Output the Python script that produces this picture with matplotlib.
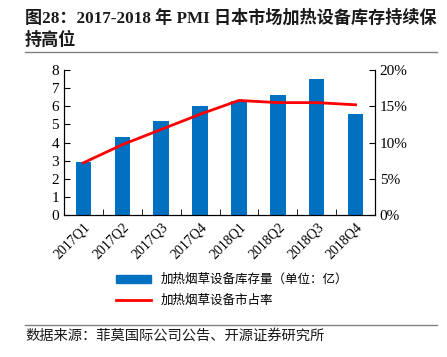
import numpy as np
import matplotlib.pyplot as plt
from matplotlib.lines import Line2D

quarters = ['2017Q1', '2017Q2', '2017Q3', '2017Q4', '2018Q1', '2018Q2', '2018Q3', '2018Q4']
stock = [2.9, 4.3, 5.2, 6.0, 6.3, 6.6, 7.5, 5.6]          # 加热烟草设备库存量 (亿)
share = [0.072, 0.097, 0.118, 0.139, 0.158, 0.155, 0.155, 0.152]  # 市占率

serif = ['Liberation Serif', 'Noto Sans CJK SC']
cjk = ['Noto Sans CJK SC', 'DejaVu Sans']

fig = plt.figure(figsize=(4.47, 3.57), dpi=100)
W, H = 447, 357
ax = fig.add_axes([64 / W, 1 - 215 / H, (375 - 64) / W, 145 / H])
ax2 = ax.twinx()

x = np.arange(len(quarters))
ax.bar(x, stock, width=0.4, color='#0070C0', zorder=2)
ax2.plot(x, share, color='#FF0000', lw=2, zorder=3)

ax.set_xlim(-0.5, len(quarters) - 0.5)
ax.set_ylim(0, 8)
ax.set_yticks(range(0, 9))
ax2.set_ylim(0, 0.20)
ax2.set_yticks([0, 0.05, 0.10, 0.15, 0.20])
ax2.set_yticklabels(['0%', '5%', '10%', '15%', '20%'])

ax.set_xticks(x)
ax.set_xticklabels(quarters, rotation=45, ha='right', rotation_mode='anchor')
ax.set_xticks(np.arange(-0.5, len(quarters)), minor=True)
ax.tick_params(axis='x', which='major', length=0, labelsize=10, pad=4)
ax.tick_params(axis='x', which='minor', direction='in', length=4)
ax.tick_params(axis='y', direction='in', length=4, labelsize=11)
ax2.tick_params(axis='y', direction='in', length=4, labelsize=11)
for a in (ax, ax2):
    a.spines['top'].set_visible(False)
    for lab in a.get_xticklabels() + a.get_yticklabels():
        lab.set_fontfamily(serif)
ax.set_zorder(ax2.get_zorder() - 1)
ax2.patch.set_visible(False)
ax.patch.set_visible(False)

# legend
handles = [plt.Rectangle((0, 0), 1, 1, color='#0070C0'),
           Line2D([0], [0], color='#FF0000', lw=2)]
labels = ['加热烟草设备库存量（单位：亿）', '加热烟草设备市占率']
fig.legend(handles, labels, loc='center', bbox_to_anchor=(232 / W, 1 - 290 / H),
           ncol=1, frameon=False, prop={'family': cjk, 'size': 9},
           handlelength=2.8, handleheight=0.6, labelspacing=0.6)

# title and source
fig.text(25 / W, 1 - 18 / H, '图28：2017-2018 年 PMI 日本市场加热设备库存持续保',
         fontsize=12.3, fontweight='bold', family=serif, color='#1a1a1a', va='center')
fig.text(25 / W, 1 - 40 / H, '持高位',
         fontsize=12.3, fontweight='bold', family=serif, color='#1a1a1a', va='center')
fig.add_artist(Line2D([25 / W, 437 / W], [1 - 52 / H, 1 - 52 / H], color='#808080', lw=1))
fig.add_artist(Line2D([25 / W, 437 / W], [1 - 325 / H, 1 - 325 / H], color='#808080', lw=1))
fig.text(25 / W, 1 - 336 / H, '数据来源：菲莫国际公司公告、开源证券研究所',
         fontsize=10.3, family=cjk, color='#1a1a1a', va='center')

fig.savefig('out.png', dpi=100)
